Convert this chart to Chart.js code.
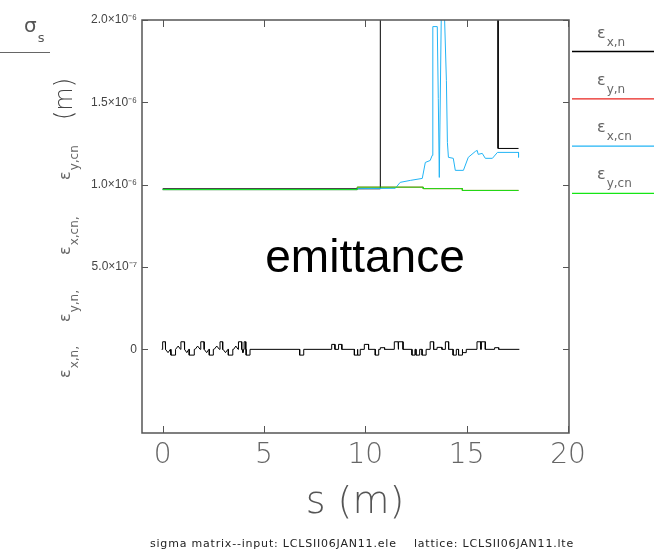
<!DOCTYPE html>
<html>
<head>
<meta charset="utf-8">
<script src="https://cdn.jsdelivr.net/npm/chart.js@4.4.1/dist/chart.umd.min.js"></script>
<style>
  body { margin: 0; background: #fff; }
  canvas { display: block; }
</style>
</head>
<body>
<canvas id="emit" width="654" height="551"></canvas>
<script>
// emittance vs s
const xTicks = [0, 5, 10, 15, 20];
const yTicks = [0, 5e-7, 1e-6, 1.5e-6, 2e-6];

// eps x,n  (goes off scale between ~10.7 m and ~16.5 m)
const exnS = [0, 10.74, 10.74, 16.55, 16.55, 17.56];
const exnV = [0.975e-6, 0.975e-6, 3.0e-6, 3.0e-6, 1.22e-6, 1.22e-6];

// eps y,n  (sits under the green one)
const eynS = [0, 9.6, 9.6, 12.86, 12.86, 14.79, 14.79, 17.56];
const eynV = [0.970e-6, 0.970e-6, 0.985e-6, 0.985e-6, 0.976e-6, 0.976e-6, 0.965e-6, 0.965e-6];

// eps x,cn
const excnS = [0, 9.6, 9.6, 11.48, 11.72, 12.22, 12.81, 12.96, 13.2, 13.3, 13.33, 13.55, 13.6, 13.65,
  13.75, 13.9, 14.0, 14.05, 14.1, 14.34, 14.44, 14.84, 15.08, 15.43, 15.52, 15.57, 15.77, 15.92,
  16.27, 16.52, 17.56, 17.56];
const excnV = [0.970e-6, 0.970e-6, 0.976e-6, 0.978e-6, 1.014e-6, 1.026e-6, 1.038e-6, 1.135e-6,
  1.147e-6, 1.178e-6, 1.96e-6, 1.96e-6, 1.523e-6, 1.044e-6, 2.05e-6, 2.05e-6, 1.632e-6, 1.257e-6,
  1.166e-6, 1.16e-6, 1.087e-6, 1.087e-6, 1.166e-6, 1.202e-6, 1.208e-6, 1.184e-6, 1.19e-6, 1.16e-6,
  1.16e-6, 1.196e-6, 1.196e-6, 1.166e-6];

// eps y,cn
const eycnS = [0, 9.6, 9.6, 12.86, 12.86, 14.79, 14.79, 17.56];
const eycnV = [0.970e-6, 0.970e-6, 0.985e-6, 0.985e-6, 0.976e-6, 0.976e-6, 0.965e-6, 0.965e-6];

const seriesSub = ['x,n', 'y,n', 'x,cn', 'y,cn'];
const seriesColor = ['#000000', '#e8231e', '#22b4f5', '#14e614'];

// lattice profile along the zero line: start, end (m), height (1e-6 m), kind b=box t=triangle
const elemStart = [0.00, 0.15, 0.41, 0.65, 0.90, 1.09, 1.31, 1.60, 1.88, 2.06, 2.30, 2.54, 2.83, 2.98,
  3.24, 3.50, 3.74, 3.92, 4.02, 4.12, 6.76, 8.34, 8.68, 9.46, 9.63, 9.95, 10.49, 10.74, 11.43, 11.64,
  12.30, 12.50, 12.80, 13.20, 13.54, 13.95, 14.33, 14.60, 14.80, 15.51, 15.72, 16.38];
const elemEnd = [0.13, 0.38, 0.62, 0.88, 1.07, 1.29, 1.56, 1.85, 2.04, 2.28, 2.50, 2.80, 2.96, 3.22,
  3.46, 3.72, 3.90, 4.00, 4.10, 4.31, 6.96, 8.50, 8.84, 9.60, 9.75, 10.16, 10.66, 10.95, 11.62, 11.86,
  12.45, 12.68, 13.00, 13.37, 13.78, 14.11, 14.49, 14.78, 14.98, 15.70, 15.92, 16.58];
const elemH = [0.046, -0.02, -0.035, 0.02, 0.046, -0.02, -0.035, 0.02, 0.046, -0.02, -0.035, 0.02, 0.046, -0.02,
  -0.035, 0.02, 0.046, -0.02, 0.046, -0.035, -0.035, 0.03, 0.03, -0.035, -0.035, 0.03, -0.035, 0.01, 0.046, 0.046,
  -0.035, -0.035, -0.035, 0.046, 0.012, 0.046, -0.035, -0.035, -0.02, 0.046, 0.046, 0.01];
const elemKind = ['b', 't', 'b', 't', 'b', 't', 'b', 't', 'b', 't', 'b', 't', 'b', 't',
  'b', 't', 'b', 't', 'b', 'b', 'b', 'b', 'b', 'b', 'b', 'b', 'b', 'b', 'b', 'b',
  'b', 'b', 'b', 'b', 'b', 'b', 'b', 'b', 'b', 'b', 'b', 'b'];
const latticeFrom = -0.05, latticeTo = 17.6;

const zip = (s, v) => s.map((x, i) => ({ x: x, y: v[i] }));

const profile = [{ x: latticeFrom, y: 0 }];
elemStart.forEach((s0, i) => {
  const s1 = elemEnd[i], h = elemH[i] * 1e-6;
  if (elemKind[i] === 't') {
    profile.push({ x: s0, y: 0 }, { x: (s0 + s1) / 2, y: h }, { x: s1, y: 0 });
  } else {
    profile.push({ x: s0, y: 0 }, { x: s0, y: h }, { x: s1, y: h }, { x: s1, y: 0 });
  }
});
profile.push({ x: latticeTo, y: 0 });

function subText(ctx, x, y, main, sub, mainFont, subFont, drop) {
  ctx.font = mainFont;
  ctx.fillText(main, x, y);
  const w = ctx.measureText(main).width;
  ctx.font = subFont;
  ctx.fillText(sub, x + w + 1, y + drop);
  return w + 1 + ctx.measureText(sub).width;
}

const deco = {
  id: 'deco',
  afterDraw(chart) {
    const { ctx, chartArea: a, scales: { x, y } } = chart;
    ctx.save();
    // frame + inward ticks on all four sides
    ctx.strokeStyle = '#555';
    ctx.lineWidth = 1.5;
    ctx.strokeRect(a.left, a.top, a.right - a.left, a.bottom - a.top);
    ctx.lineWidth = 1;
    ctx.beginPath();
    x.ticks.forEach(t => {
      const px = Math.round(x.getPixelForValue(t.value)) + 0.5;
      ctx.moveTo(px, a.top); ctx.lineTo(px, a.top + 7);
      ctx.moveTo(px, a.bottom); ctx.lineTo(px, a.bottom - 7);
    });
    y.ticks.forEach(t => {
      const py = Math.round(y.getPixelForValue(t.value)) + 0.5;
      ctx.moveTo(a.left, py); ctx.lineTo(a.left + 6, py);
      ctx.moveTo(a.right, py); ctx.lineTo(a.right - 6, py);
    });
    ctx.stroke();

    // big label in the middle
    ctx.fillStyle = '#000';
    ctx.textAlign = 'center';
    ctx.textBaseline = 'alphabetic';
    ctx.font = '46px "Liberation Sans", Arial, sans-serif';
    ctx.fillText('emittance', 365, 272);

    // x title and caption
    ctx.fillStyle = '#555';
    ctx.font = '200 38px "DejaVu Sans", sans-serif';
    ctx.fillText('s (m)', 355, 513);
    ctx.fillStyle = '#222';
    ctx.font = '11px "DejaVu Sans", sans-serif';
    ctx.letterSpacing = '0.8px';
    ctx.fillText('sigma matrix--input: LCLSII06JAN11.ele    lattice: LCLSII06JAN11.lte', 362, 547);
    ctx.letterSpacing = '0px';

    // sigma_s corner title
    ctx.textAlign = 'left';
    ctx.fillStyle = '#555';
    subText(ctx, 24, 32, 'σ', 's', '20px "DejaVu Sans", sans-serif', '13px "DejaVu Sans", sans-serif', 10);
    ctx.strokeStyle = '#666';
    ctx.beginPath(); ctx.moveTo(0, 52.5); ctx.lineTo(50, 52.5); ctx.stroke();

    // rotated y title
    const mf = '16px "DejaVu Sans", sans-serif', sf = '12px "DejaVu Sans", sans-serif';
    ctx.fillStyle = '#666';
    ctx.save();
    ctx.translate(70, 378);
    ctx.rotate(-Math.PI / 2);
    const itemAt = [0, 56, 123, 198];
    seriesSub.forEach((s, i) => {
      subText(ctx, itemAt[i], 0, 'ε', i < 3 ? s + ',' : s, mf, sf, 8);
    });
    ctx.font = '200 24px "DejaVu Sans", sans-serif';
    ctx.fillStyle = '#444';
    ctx.fillText('(m)', 258, 2);
    ctx.restore();

    // legend at the right
    chart.data.datasets.slice(0, 4).forEach((ds, i) => {
      const ly = 51.5 + 47.3 * i;
      ctx.fillStyle = '#666';
      ctx.textAlign = 'left';
      subText(ctx, 597, ly - 14, 'ε', seriesSub[i], mf, sf, 8);
      ctx.strokeStyle = ds.borderColor;
      ctx.lineWidth = 1.3;
      ctx.beginPath(); ctx.moveTo(572, ly); ctx.lineTo(654, ly); ctx.stroke();
    });
    ctx.restore();
  }
};

new Chart(document.getElementById('emit'), {
  type: 'line',
  data: {
    datasets: [
      { label: 'εx,n', data: zip(exnS, exnV), borderColor: seriesColor[0], order: 3 },
      { label: 'εy,n', data: zip(eynS, eynV), borderColor: seriesColor[1], order: 4 },
      { label: 'εx,cn', data: zip(excnS, excnV), borderColor: seriesColor[2], order: 2 },
      { label: 'εy,cn', data: zip(eycnS, eycnV), borderColor: seriesColor[3], order: 1 },
      { label: 'profile', data: profile, borderColor: '#000', order: 5 }
    ]
  },
  options: {
    responsive: false,
    animation: false,
    layout: { padding: { left: 0, right: 85, top: 20, bottom: 0 } },
    elements: {
      point: { radius: 0 },
      line: { borderWidth: 1, tension: 0, fill: false }
    },
    plugins: { legend: { display: false }, tooltip: { enabled: false } },
    scales: {
      x: {
        type: 'linear',
        min: -1.02,
        max: 20.05,
        grid: { display: false, drawTicks: false },
        border: { display: false },
        afterBuildTicks: s => { s.ticks = xTicks.map(v => ({ value: v })); },
        afterFit: s => { s.height = 118; },
        ticks: {
          color: '#666',
          padding: 6,
          maxRotation: 0,
          font: { family: '"DejaVu Sans", sans-serif', size: 28, weight: '200' }
        }
      },
      y: {
        min: -0.508e-6,
        max: 2.0e-6,
        grid: { display: false, drawTicks: false },
        border: { display: false },
        afterBuildTicks: s => { s.ticks = yTicks.map(v => ({ value: v })); },
        afterFit: s => { s.width = 142; },
        ticks: {
          color: '#444',
          padding: 5,
          font: { family: '"Liberation Sans", Arial, sans-serif', size: 12 },
          callback: v => {
            if (v === 0) return '0';
            const e = Math.floor(Math.log10(Math.abs(v)) + 1e-9);
            const m = (v / Math.pow(10, e)).toFixed(1);
            const sup = { '-': '⁻', '0': '⁰', '1': '¹', '2': '²', '3': '³', '4': '⁴', '5': '⁵', '6': '⁶', '7': '⁷', '8': '⁸', '9': '⁹' };
            return m + '×10' + String(e).split('').map(c => sup[c]).join('');
          }
        }
      }
    }
  },
  plugins: [deco]
});
</script>
</body>
</html>
